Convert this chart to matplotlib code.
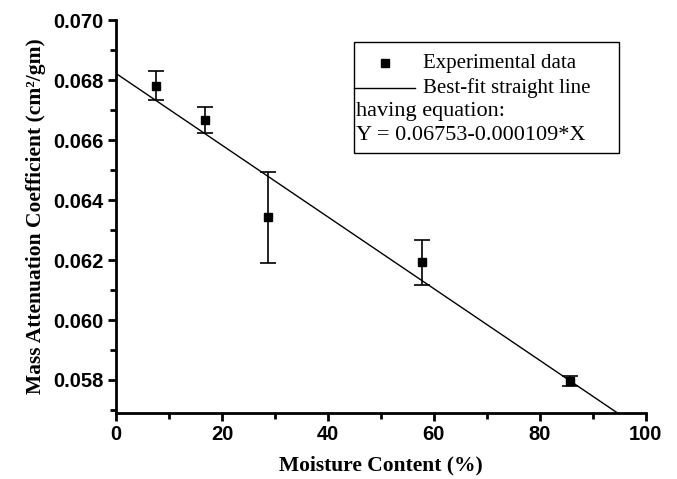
import matplotlib
matplotlib.use("Agg")
import numpy as np
import matplotlib.pyplot as plt
from matplotlib.lines import Line2D
from matplotlib.patches import Rectangle
from matplotlib.ticker import MultipleLocator

# Data
moisture = [7.5, 16.8, 28.7, 57.8, 85.7]
mac = [0.06781, 0.06668, 0.06342, 0.06193, 0.05797]
err_up = [0.00050, 0.00043, 0.00150, 0.00073, 0.00017]
err_down = [0.00047, 0.00043, 0.00153, 0.00077, 0.00016]

# Best-fit line as drawn
line_x = [0, 100]
line_intercept = 0.06822
line_slope = -0.0001196

legend_labels = ["Experimental data", "Best-fit straight line",
                 "having equation:", "Y = 0.06753-0.000109*X"]

serif = "Liberation Serif"
sans = "Liberation Sans"

fig = plt.figure(figsize=(6.77, 4.79), dpi=100)
ax = fig.add_axes([0.1713, 0.1378, 0.7827, 0.8204])

fit_y = [line_intercept + line_slope * x for x in line_x]
ax.plot(line_x, fit_y, color="black", lw=1)
ax.errorbar(moisture, mac, yerr=[err_down, err_up], fmt="s", color="black",
            ms=6, capsize=6, elinewidth=1.2, capthick=1.2)

ax.set_xlim(0, 100)
ax.set_ylim(0.0569, 0.070)
ax.xaxis.set_major_locator(MultipleLocator(20))
ax.xaxis.set_minor_locator(MultipleLocator(10))
ax.yaxis.set_major_locator(MultipleLocator(0.002))
ax.yaxis.set_minor_locator(MultipleLocator(0.001))
ax.yaxis.set_major_formatter(plt.FormatStrFormatter("%.3f"))

for s in ["top", "right"]:
    ax.spines[s].set_visible(False)
for s in ["left", "bottom"]:
    ax.spines[s].set_linewidth(2)
ax.tick_params(which="major", direction="out", length=6, width=2, pad=3)
ax.tick_params(which="minor", direction="out", length=4, width=2)
for lab in ax.get_xticklabels() + ax.get_yticklabels():
    lab.set_fontfamily(sans)
    lab.set_fontweight("bold")
    lab.set_fontsize(14.5)

ax.set_xlabel("Moisture Content (%)", fontfamily=serif, fontweight="bold",
              fontsize=15.5, labelpad=8)
ax.set_ylabel("Mass Attenuation Coefficient (cm\u00b2/gm)", fontfamily=serif,
              fontweight="bold", fontsize=15.5, labelpad=5)

# Legend box drawn by hand
tr = ax.transAxes
ax.add_patch(Rectangle((0.449, 0.662), 0.5, 0.282, transform=tr,
                       fill=False, lw=1, ec="black", clip_on=False))
ax.add_line(Line2D([0.5075], [0.8906], marker="s", ls="none", color="black",
                   ms=6, transform=tr, clip_on=False))
ax.add_line(Line2D([0.449, 0.564], [0.827, 0.827], color="black", lw=1,
                   transform=tr, clip_on=False))
rows = [0.8906, 0.827, 0.766, 0.705]
xs = [0.579, 0.579, 0.453, 0.453]
sizes = [15, 15, 16, 16]
for lab, xx, yy, fs in zip(legend_labels, xs, rows, sizes):
    ax.text(xx, yy, lab, transform=tr, fontfamily=serif, fontsize=fs,
            va="center", ha="left")

fig.savefig("out.png", dpi=100)
